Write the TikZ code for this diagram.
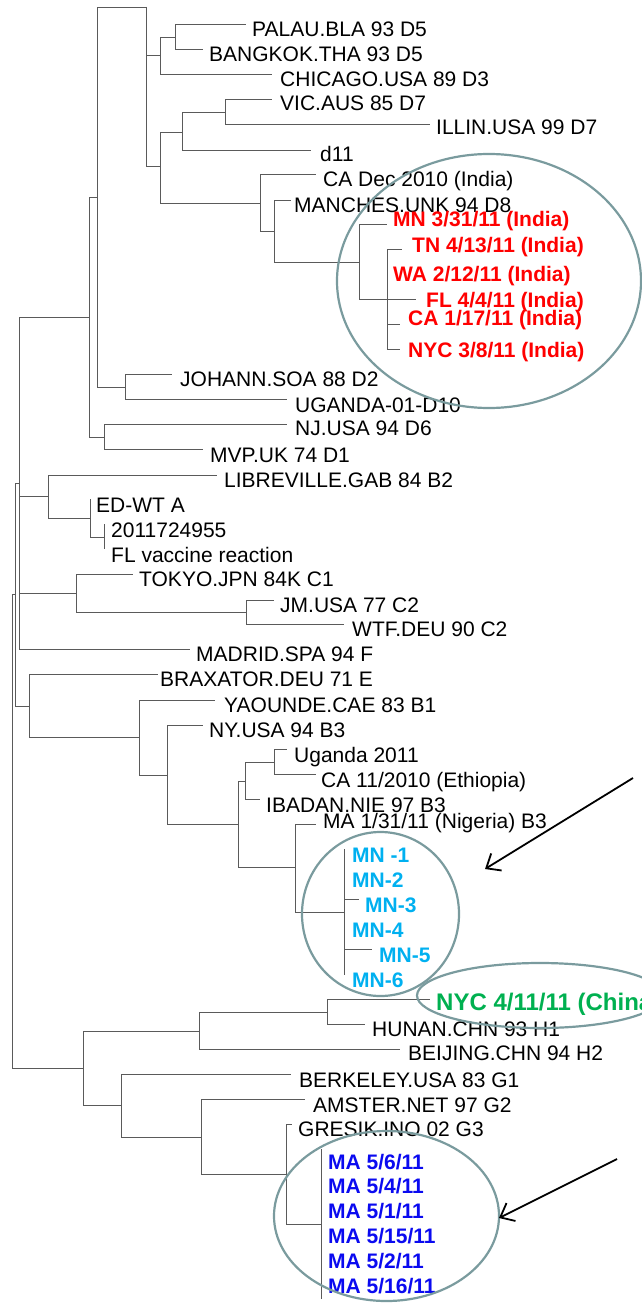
\documentclass[tikz,border=0pt]{standalone}
\usepackage{fontspec}
\setmainfont{Liberation Sans}
\usetikzlibrary{arrows.meta}
\definecolor{branchgray}{RGB}{90,90,90}
\definecolor{ringteal}{RGB}{122,155,158}
\definecolor{indiared}{RGB}{255,0,0}
\definecolor{mncyan}{RGB}{0,176,240}
\definecolor{chinagreen}{RGB}{0,176,80}
\definecolor{mablue}{RGB}{10,10,240}
\newcommand{\leaffont}{\fontsize{21}{25}\selectfont}
\newcommand{\bigleaffont}{\fontsize{24}{28}\selectfont}

\begin{document}
\begin{tikzpicture}[x=1pt, y=-1pt,
    branch/.style={draw=branchgray, line width=0.9pt},
    leaf/.style={anchor=base west, inner sep=0pt, font=\leaffont},
    hit/.style={leaf, font=\leaffont\bfseries},
    ring/.style={draw=ringteal, line width=2.2pt},
    pointer/.style={draw=black, line width=1.8pt, -{Straight Barb[length=12pt,width=20pt]}}]
\useasboundingbox (0,0) rectangle (642,1303);

% Internal nodes (x, where the parent branch comes in)
\coordinate (root) at (12,594);
\coordinate (n15) at (15,594);
\coordinate (n19) at (19,483);
\coordinate (n89) at (89,317);
\coordinate (n97) at (97,197);
\coordinate (n146) at (146,7);
\coordinate (n160a) at (160,55);
\coordinate (n175) at (175,37);
\coordinate (n160b) at (160,166);
\coordinate (n182) at (182,132);
\coordinate (n225) at (225,112);
\coordinate (n260) at (260,203);
\coordinate (n274) at (274,231);
\coordinate (n359) at (359,262);
\coordinate (n387) at (387,299);
\coordinate (n125) at (125,387);
\coordinate (n104) at (104,437);
\coordinate (n48) at (48,496);
\coordinate (n90) at (90,518);
\coordinate (n104b) at (104,537);
\coordinate (n76) at (76,593);
\coordinate (n246) at (246,612);
\coordinate (n29) at (29,706);
\coordinate (n139) at (139,737);
\coordinate (n167) at (167,775);
\coordinate (n238) at (238,824);
\coordinate (n245) at (245,781);
\coordinate (n274b) at (274,762);
\coordinate (n295) at (295,867);
\coordinate (n344) at (344,912);
\coordinate (n83) at (83,1068);
\coordinate (n199) at (199,1031);
\coordinate (n327) at (327,1012);
\coordinate (n121) at (121,1105);
\coordinate (n201) at (201,1137);
\coordinate (n286) at (286,1174);
\coordinate (n321) at (321,1224);

% Branch tips
\coordinate (t-palau) at (246,24);
\coordinate (t-bangkok) at (203,49);
\coordinate (t-chicago) at (272,74);
\coordinate (t-vic) at (272,99);
\coordinate (t-illin) at (430,124);
\coordinate (t-d11) at (311,150);
\coordinate (t-cadec) at (316,174);
\coordinate (t-manches) at (291,200);
\coordinate (t-mn331) at (387,224);
\coordinate (t-tn) at (402,249);
\coordinate (t-fl) at (416,299);
\coordinate (t-ca117) at (400,324);
\coordinate (t-nyc38) at (400,349);
\coordinate (t-johann) at (172,374);
\coordinate (t-uganda) at (287,399);
\coordinate (t-nj) at (287,424);
\coordinate (t-mvp) at (203,449);
\coordinate (t-libre) at (217,475);
\coordinate (t-edwt) at (90,499);
\coordinate (t-2011) at (104,524);
\coordinate (t-flvac) at (104,549);
\coordinate (t-tokyo) at (133,574);
\coordinate (t-jm) at (274,600);
\coordinate (t-wtf) at (344,624);
\coordinate (t-madrid) at (190,649);
\coordinate (t-brax) at (158,674);
\coordinate (t-yaounde) at (215,700);
\coordinate (t-ny) at (203,725);
\coordinate (t-ug11) at (287,749);
\coordinate (t-ca1110) at (316,774);
\coordinate (t-ibadan) at (260,799);
\coordinate (t-ma131) at (316,824);
\coordinate (t-mn1) at (344,849);
\coordinate (t-mn3) at (359,899);
\coordinate (t-mn5) at (372,949);
\coordinate (t-mn6) at (344,975);
\coordinate (t-nyc411) at (430,999);
\coordinate (t-hunan) at (365,1024);
\coordinate (t-beijing) at (400,1049);
\coordinate (t-berk) at (291,1074);
\coordinate (t-amster) at (305,1099);
\coordinate (t-gresik) at (292,1124);
\coordinate (t-ma56) at (321,1149);
\coordinate (t-ma516) at (321,1299);

% Branches
\foreach \p/\c in {root/n15, root/n83, n15/n19, n15/n29,
    n19/n89, n19/n48, n19/n76, n19/t-madrid, n89/n97, n89/n104,
    n97/n146, n97/n125, n146/n160a, n146/n160b,
    n160a/n175, n160a/t-chicago, n175/t-palau, n175/t-bangkok,
    n160b/n182, n160b/n260, n182/n225, n182/t-d11, n225/t-vic, n225/t-illin,
    n260/t-cadec, n260/n274, n274/t-manches, n274/n359,
    n359/t-mn331, n359/n387, n387/t-tn, n387/t-fl, n387/t-ca117, n387/t-nyc38,
    n125/t-johann, n125/t-uganda, n104/t-nj, n104/t-mvp,
    n48/t-libre, n48/n90, n90/t-edwt, n90/n104b, n104b/t-2011, n104b/t-flvac,
    n76/t-tokyo, n76/n246, n246/t-jm, n246/t-wtf,
    n29/t-brax, n29/n139, n139/t-yaounde, n139/n167, n167/t-ny, n167/n238,
    n238/n245, n238/n295, n245/n274b, n245/t-ibadan, n274b/t-ug11, n274b/t-ca1110,
    n295/t-ma131, n295/n344, n344/t-mn1, n344/t-mn3, n344/t-mn5, n344/t-mn6,
    n83/n199, n83/n121, n199/n327, n199/t-beijing, n327/t-nyc411, n327/t-hunan,
    n121/t-berk, n121/n201, n201/t-amster, n201/n286, n286/t-gresik, n286/n321,
    n321/t-ma56, n321/t-ma516}
    \draw[branch] (\p) |- (\c);

% Reference strains
\node[leaf] (palau) at (252,37) {PALAU.BLA 93 D5};
\node[leaf] (bangkok) at (209,62) {BANGKOK.THA 93 D5};
\node[leaf] (chicago) at (280,87) {CHICAGO.USA 89 D3};
\node[leaf] (vic) at (280,111) {VIC.AUS 85 D7};
\node[leaf] (illin) at (436,135) {ILLIN.USA 99 D7};
\node[leaf] (d11) at (320,161) {d11};
\node[leaf] (cadec) at (323,186) {CA Dec 2010 (India)};
\node[leaf] (manches) at (294,212) {MANCHES.UNK 94 D8};
\node[leaf] (johann) at (180,386) {JOHANN.SOA 88 D2};
\node[leaf] (uganda) at (295,412) {UGANDA-01-D10};
\node[leaf] (nj) at (295,435) {NJ.USA 94 D6};
\node[leaf] (mvp) at (210,462) {MVP.UK 74 D1};
\node[leaf] (libre) at (224,487) {LIBREVILLE.GAB 84 B2};
\node[leaf] (edwt) at (96,512) {ED-WT A};
\node[leaf] (s2011) at (111,537) {2011724955};
\node[leaf] (flvac) at (111,562) {FL vaccine reaction};
\node[leaf] (tokyo) at (139,586) {TOKYO.JPN 84K C1};
\node[leaf] (jm) at (280,612) {JM.USA 77 C2};
\node[leaf] (wtf) at (352,636) {WTF.DEU 90 C2};
\node[leaf] (madrid) at (196,661) {MADRID.SPA 94 F};
\node[leaf] (brax) at (160,686) {BRAXATOR.DEU 71 E};
\node[leaf] (yaounde) at (224,712) {YAOUNDE.CAE 83 B1};
\node[leaf] (ny) at (209,737) {NY.USA 94 B3};
\node[leaf] (ug11) at (294,762) {Uganda 2011};
\node[leaf] (ca1110) at (321,787) {CA 11/2010 (Ethiopia)};
\node[leaf] (ibadan) at (266,812) {IBADAN.NIE 97 B3};
\node[leaf] (ma131) at (323,828) {MA 1/31/11 (Nigeria) B3};
\node[leaf] (hunan) at (372,1036) {HUNAN.CHN 93 H1};
\node[leaf] (beijing) at (408,1060) {BEIJING.CHN 94 H2};
\node[leaf] (berk) at (299,1087) {BERKELEY.USA 83 G1};
\node[leaf] (amster) at (313,1112) {AMSTER.NET 97 G2};
\node[leaf] (gresik) at (298,1136) {GRESIK.INO 02 G3};

% India cluster
\node[hit, text=indiared] (mn331) at (393,226) {MN 3/31/11 (India)};
\node[hit, text=indiared] (tn) at (412,252) {TN 4/13/11 (India)};
\node[hit, text=indiared] (wa) at (393,281) {WA 2/12/11 (India)};
\node[hit, text=indiared] (fl) at (426,307) {FL 4/4/11 (India)};
\node[hit, text=indiared] (ca117) at (408,325) {CA 1/17/11 (India)};
\node[hit, text=indiared] (nyc38) at (408,357) {NYC 3/8/11 (India)};

% MN cluster
\node[hit, text=mncyan] (mn1) at (352,862) {MN -1};
\node[hit, text=mncyan] (mn2) at (352,887) {MN-2};
\node[hit, text=mncyan] (mn3) at (365,912) {MN-3};
\node[hit, text=mncyan] (mn4) at (352,937) {MN-4};
\node[hit, text=mncyan] (mn5) at (379,962) {MN-5};
\node[hit, text=mncyan] (mn6) at (352,987) {MN-6};

% China case
\node[hit, font=\bigleaffont\bfseries, text=chinagreen] (nyc411) at (436,1010) {NYC 4/11/11 (China)};

% MA cluster
\node[hit, text=mablue] (ma56) at (328,1169) {MA 5/6/11};
\node[hit, text=mablue] (ma54) at (328,1193) {MA 5/4/11};
\node[hit, text=mablue] (ma51) at (328,1218) {MA 5/1/11};
\node[hit, text=mablue] (ma515) at (328,1243) {MA 5/15/11};
\node[hit, text=mablue] (ma52) at (328,1268) {MA 5/2/11};
\node[hit, text=mablue] (ma516) at (328,1293) {MA 5/16/11};

% Rings
\draw[ring] (489,281) ellipse [x radius=152pt, y radius=127pt];
\draw[ring] (380.5,914) ellipse [x radius=78.5pt, y radius=82pt];
\draw[ring] (540,995.5) ellipse [x radius=123pt, y radius=32.5pt];
\draw[ring] (386.5,1216) ellipse [x radius=112.5pt, y radius=85pt];

% Arrows
\coordinate (arrMN-s) at (633,778);
\coordinate (arrMN-e) at (485,869);
\coordinate (arrMA-s) at (617,1159);
\coordinate (arrMA-e) at (499,1218);
\draw[pointer] (arrMN-s) -- (arrMN-e);
\draw[pointer] (arrMA-s) -- (arrMA-e);
\end{tikzpicture}
\end{document}
